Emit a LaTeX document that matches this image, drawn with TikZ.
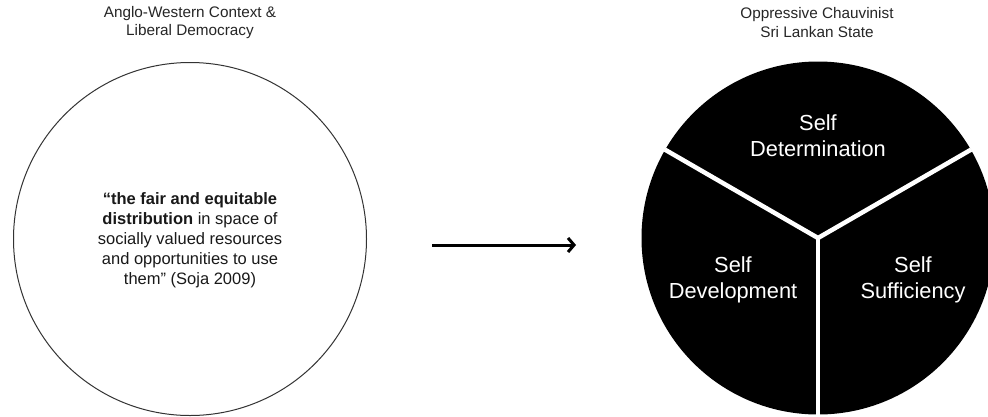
\documentclass[tikz,border=0pt]{standalone}
\usepackage{fontspec}
\setmainfont{Liberation Sans}
\usetikzlibrary{arrows.meta}
\begin{document}
\begin{tikzpicture}[x=1pt,y=1pt,
  title/.style={align=center,font=\fontsize{15.3}{18.5}\selectfont,text=black!85},
  quote/.style={align=center,font=\fontsize{16.5}{20}\selectfont,text=black!90},
  seg/.style={align=center,font=\fontsize{21.8}{25.5}\selectfont,text=white},
  divider/.style={white,line width=4.5pt}]
\useasboundingbox (0,0) rectangle (988,-416);
\fill[white] (0,0) rectangle (988,-416);
% left circle
\node[title] (ltitle) at (190,-22.5) {Anglo-Western Context \&\\Liberal Democracy};
\draw[line width=1pt,black!80] (190,-239) coordinate (lc) circle (176.5);
\node[quote] (lquote) at (190,-240) {\textbf{“the fair and equitable}\\\textbf{distribution} in space of\\socially valued resources\\and opportunities to use\\them” (Soja 2009)};
% arrow
\coordinate (astart) at (432,-245);
\coordinate (aend) at (576,-245);
\draw[line width=3pt,-{Straight Barb[length=6pt,width=14pt,line width=3pt]}] (astart) -- (aend);
% right circle
\node[title] (rtitle) at (817,-22.5) {Oppressive Chauvinist\\Sri Lankan State};
\fill[black] (818,-238) coordinate (rc) circle (176.5);
\draw[divider] (rc) -- ++(150:177) coordinate (d1);
\draw[divider] (rc) -- ++(30:177) coordinate (d2);
\draw[divider] (rc) -- ++(270:180) coordinate (d3);
\node[seg] (sdet) at (818,-135.5) {Self\\Determination};
\node[seg] (sdev) at (733,-280) {Self\\Development};
\node[seg] (ssuf) at (913,-280) {Self\\Sufficiency};
\end{tikzpicture}
\end{document}
